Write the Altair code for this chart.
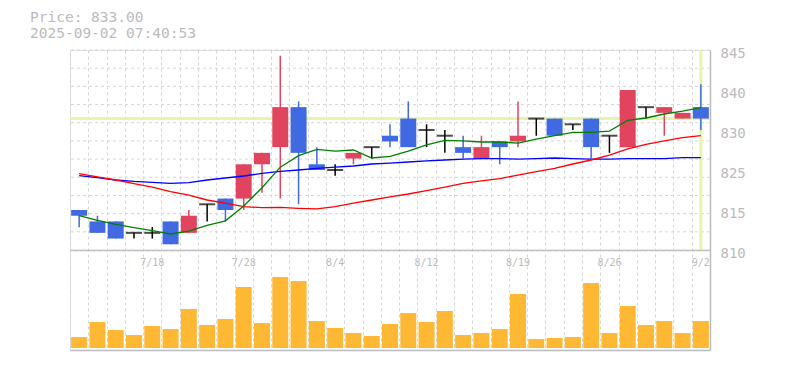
import altair as alt
import pandas as pd
import numpy as np

# ---------------- data ----------------
dates = ["7/14", "7/15", "7/16", "7/17", "7/18", "7/22", "7/23", "7/24", "7/25",
         "7/28", "7/29", "7/30", "7/31", "8/1", "8/4", "8/5", "8/6", "8/7", "8/8",
         "8/12", "8/13", "8/14", "8/15", "8/18", "8/19", "8/20", "8/21", "8/22",
         "8/25", "8/26", "8/27", "8/28", "8/29", "9/1", "9/2"]
opens = [817, 815, 815, 813, 813, 815, 813, 818, 819, 819, 825, 828, 835, 825, 824,
         826, 828, 830, 833, 831, 830, 828, 826, 829, 829, 833, 833, 832, 833, 830,
         828, 835, 834, 833, 835]
highs = [817, 816, 815, 813, 814, 815, 817, 818, 819, 825, 827, 844, 836, 828, 825,
         827, 828, 832, 836, 832, 831, 830, 830, 829, 836, 833, 833, 832, 833, 830,
         838, 835, 835, 834, 839]
lows = [814, 813, 812, 812, 812, 811, 813, 815, 815, 817, 820, 819, 818, 824, 823,
        825, 826, 828, 828, 828, 827, 826, 826, 825, 828, 830, 830, 831, 826, 827,
        828, 833, 830, 833, 831]
closes = [816, 813, 812, 813, 813, 811, 816, 818, 817, 825, 827, 835, 827, 824, 824,
          827, 828, 829, 828, 831, 830, 827, 828, 828, 830, 833, 830, 832, 828, 830,
          838, 835, 835, 834, 833]
volumes = [11, 26, 18, 13, 22, 19, 39, 23, 29, 61, 25, 71, 67, 27, 20, 15, 12, 24,
           35, 26, 37, 13, 15, 19, 54, 9, 10, 11, 65, 15, 42, 23, 27, 15, 27]
ma_short = [816.0, 815.2, 814.5, 813.9, 813.4, 812.8, 813.3, 814.3, 815.1, 817.7,
            820.9, 824.5, 826.5, 827.6, 827.3, 827.5, 826.1, 826.4, 827.3, 828.4,
            829.2, 829.1, 828.9, 828.9, 828.7, 829.4, 830.0, 830.6, 830.6, 830.8,
            832.7, 833.1, 833.8, 834.3, 834.9]
ma_mid = [823.35, 822.8, 822.25, 821.6, 821.0, 820.2, 819.6, 818.75, 818.2, 817.6,
          817.4, 817.45, 817.3, 817.2, 817.6, 818.2, 818.75, 819.3, 819.8, 820.4,
          821.0, 821.65, 822.1, 822.5, 823.1, 823.7, 824.3, 825.05, 825.75, 826.6,
          827.7, 828.5, 829.1, 829.65, 830.0]
ma_long = [823.0, 822.65, 822.25, 822.0, 821.85, 821.65, 821.8, 822.25, 822.6, 822.95,
           823.4, 823.75, 824.0, 824.3, 824.5, 824.7, 825.05, 825.2, 825.4, 825.6,
           825.75, 825.9, 826.0, 826.0, 825.9, 826.0, 826.1, 826.0, 825.9, 825.9,
           826.0, 826.0, 826.0, 826.15, 826.15]
label_dates = ["7/18", "7/28", "8/4", "8/12", "8/19", "8/26", "9/2"]
price_ticks = [845, 838, 831, 824, 817, 810]
last_price = 833.00
timestamp = "2025-09-02 07:40:53"

# ---------------- styling ----------------
FONT = "DejaVu Sans Mono"
GRAY = "#bbbbbb"
GRID = "#d6d6d6"
RED = "#e0445e"
BLUE = "#4169e1"
VOL = "#ffb833"
LIME = "#e4f5a9"

df = pd.DataFrame({"date": dates, "open": opens, "high": highs, "low": lows,
                   "close": closes, "volume": volumes})
df["kind"] = np.where(df["close"] > df["open"], "up",
                      np.where(df["close"] < df["open"], "down", "flat"))

ma_df = pd.DataFrame({"date": dates, "short": ma_short, "mid": ma_mid, "long": ma_long})

p_top, p_bot = price_ticks[0], price_ticks[-1]
grid_df = pd.DataFrame({"g": [p_bot + k * (p_top - p_bot) / 11 for k in range(12)]})
hline_df = pd.DataFrame({"p": [last_price]})
vline_df = pd.DataFrame({"date": [dates[-1]], "top": [p_top], "bot": [p_bot]})

price_scale = alt.Scale(domain=[p_bot - (p_top - p_bot) / 2, p_top], nice=False, zero=False)
x_scale = alt.Scale(domain=dates, paddingInner=0, paddingOuter=0)
color_scale = alt.Scale(domain=["up", "down", "flat"], range=[RED, BLUE, "black"])

label_list = "[" + ",".join("'%s'" % d for d in label_dates) + "]"
price_x_axis = alt.Axis(orient="bottom", offset=-100, title=None,
                        labelExpr="indexof(%s, datum.value) >= 0 ? datum.value : ''" % label_list,
                        labelAngle=0, labelFont=FONT, labelFontSize=10, labelColor=GRAY,
                        labelPadding=7, labelOverlap=False, ticks=False, grid=False,
                        domain=True, domainColor=GRAY, domainWidth=1.5)
vol_x_axis = alt.Axis(orient="bottom", title=None, labels=False, ticks=False, grid=True,
                      tickBand="extent", gridColor=GRID, gridDash=[3, 3], gridWidth=1,
                      domain=True, domainColor=GRAY, domainWidth=1.5)
price_y_axis = alt.Axis(orient="right", values=price_ticks, title=None,
                        labelExpr="format(round(datum.value / 5) * 5, 'd')",
                        ticks=False, grid=False, domain=True, domainColor=GRAY,
                        domainWidth=1.5, labelFont=FONT, labelFontSize=14,
                        labelColor=GRAY, labelPadding=10, labelOffset=3)

BODY_W = alt.RelativeBandSize(0.875)


def px():
    return alt.X("date:N", sort=dates, scale=x_scale, axis=price_x_axis)


def py(field):
    return alt.Y(field, scale=price_scale, axis=price_y_axis)


gridlines = alt.Chart(grid_df).mark_rule(color=GRID, strokeDash=[3, 3], strokeWidth=1).encode(
    y=py("g:Q"))
hline = alt.Chart(hline_df).mark_rule(color=LIME, strokeWidth=3).encode(y=py("p:Q"))
vline = alt.Chart(vline_df).mark_rule(color=LIME, strokeWidth=3).encode(
    x=px(), y=py("top:Q"), y2="bot:Q")

wicks = alt.Chart(df).mark_rule(strokeWidth=1.5).encode(
    x=px(), y=py("high:Q"), y2="low:Q",
    color=alt.Color("kind:N", scale=color_scale, legend=None))
bodies = alt.Chart(df).transform_filter("datum.kind != 'flat'").mark_bar(width=BODY_W).encode(
    x=px(), y=py("open:Q"), y2="close:Q",
    color=alt.Color("kind:N", scale=color_scale, legend=None))
dojis = alt.Chart(df).transform_filter("datum.kind == 'flat'").mark_tick(
    color="black", thickness=2, size=16).encode(x=px(), y=py("open:Q"))

line_short = alt.Chart(ma_df).mark_line(strokeWidth=1.3, color="#008000").encode(
    x=px(), y=py("short:Q"))
line_mid = alt.Chart(ma_df).mark_line(strokeWidth=1.3, color="#ff0000").encode(
    x=px(), y=py("mid:Q"))
line_long = alt.Chart(ma_df).mark_line(strokeWidth=1.3, color="#0000ff").encode(
    x=px(), y=py("long:Q"))

price = alt.layer(gridlines, hline, vline, wicks, bodies, dojis, line_long, line_mid, line_short)

vol = alt.Chart(df).mark_bar(color=VOL, width=BODY_W).encode(
    x=alt.X("date:N", sort=dates, scale=x_scale, axis=vol_x_axis),
    y=alt.Y("volume:Q", scale=alt.Scale(domain=[-2, 298], nice=False, zero=False), axis=None),
    y2=alt.datum(0))

chart = alt.layer(vol, price).resolve_scale(y="independent").resolve_axis(
    x="independent").properties(
    width=640, height=300,
    padding={"left": 70, "top": 50, "right": 75, "bottom": 20},
    autosize=alt.AutoSizeParams(type="none"),
    title=alt.TitleParams(text="Price: %.2f" % last_price, subtitle=timestamp,
                          anchor="start", frame="group", dx=-40, offset=5,
                          font=FONT, fontSize=14.5, fontWeight="normal", color=GRAY,
                          subtitleFont=FONT, subtitleFontSize=14.5, subtitleColor=GRAY,
                          subtitlePadding=1),
).configure_view(stroke=None).configure(background="white")

chart.save("out.html", embed_options={"renderer": "svg", "actions": False})
